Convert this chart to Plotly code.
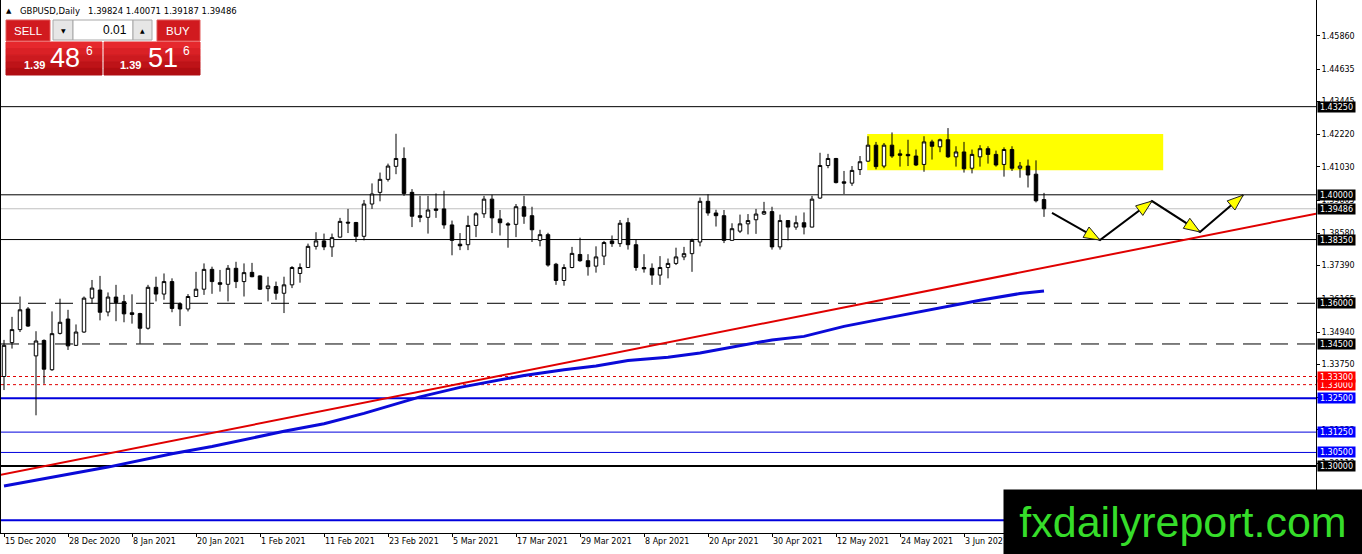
import plotly.graph_objects as go

# GBPUSD daily candles, bar 0 = 15 Dec 2020, last bar = 17 Jun 2021
opens = [1.3330, 1.3455, 1.3503, 1.3579, 1.3406, 1.3463, 1.3355, 1.3489, 1.3542, 1.3445,
         1.3494, 1.3619, 1.3649, 1.3568, 1.3623, 1.3606, 1.3565, 1.3562, 1.3508, 1.3659,
         1.3634, 1.3680, 1.3598, 1.3579, 1.3625, 1.3652, 1.3725, 1.3676, 1.3670, 1.3729,
         1.3680, 1.3714, 1.3701, 1.3654, 1.3662, 1.3637, 1.3668, 1.3710, 1.3732, 1.3810,
         1.3830, 1.3808, 1.3844, 1.3899, 1.3898, 1.3847, 1.3966, 1.4009, 1.4057, 1.4105,
         1.4134, 1.4009, 1.3923, 1.3917, 1.3948, 1.3948, 1.3889, 1.3818, 1.3816, 1.3887,
         1.3930, 1.3984, 1.3911, 1.3893, 1.3891, 1.3956, 1.3923, 1.3832, 1.3853, 1.3744,
         1.3684, 1.3732, 1.3780, 1.3757, 1.3737, 1.3774, 1.3830, 1.3820, 1.3897, 1.3816,
         1.3732, 1.3729, 1.3704, 1.3732, 1.3747, 1.3771, 1.3783, 1.3826, 1.3976, 1.3933,
         1.3923, 1.3832, 1.3866, 1.3893, 1.3908, 1.3929, 1.3938, 1.3808, 1.3905, 1.3881,
         1.3897, 1.3881, 1.3988, 1.4108, 1.4134, 1.4048, 1.4043, 1.4093, 1.4124, 1.4183,
         1.4106, 1.4183, 1.4151, 1.4149, 1.4143, 1.4112, 1.4195, 1.4177, 1.4203, 1.4140,
         1.4158, 1.4098, 1.4140, 1.4170, 1.4149, 1.4112, 1.4167, 1.4098, 1.4106, 1.4076,
         1.39824]
highs = [1.3465, 1.3550, 1.3625, 1.3586, 1.3497, 1.3467, 1.3570, 1.3617, 1.3576, 1.3522,
         1.3625, 1.3686, 1.3701, 1.3640, 1.3668, 1.3631, 1.3633, 1.3565, 1.3668, 1.3698,
         1.3710, 1.3692, 1.3603, 1.3634, 1.3716, 1.3747, 1.3735, 1.3723, 1.3741, 1.3753,
         1.3747, 1.3749, 1.3703, 1.3698, 1.3680, 1.3698, 1.3737, 1.3747, 1.3820, 1.3862,
         1.3857, 1.3857, 1.3915, 1.3948, 1.3900, 1.3981, 1.4042, 1.4082, 1.4115, 1.4225,
         1.4175, 1.4021, 1.3996, 1.3996, 1.4005, 1.4015, 1.3905, 1.3859, 1.3923, 1.3936,
         1.3996, 1.4000, 1.3944, 1.3899, 1.3966, 1.3996, 1.3956, 1.3871, 1.3860, 1.3749,
         1.3744, 1.3808, 1.3842, 1.3781, 1.3810, 1.3830, 1.3850, 1.3907, 1.3915, 1.3834,
         1.3781, 1.3747, 1.3774, 1.3765, 1.3805, 1.3808, 1.3838, 1.3990, 1.4002, 1.3945,
         1.3944, 1.3895, 1.3927, 1.3929, 1.3948, 1.3974, 1.3956, 1.3927, 1.3907, 1.3923,
         1.3935, 1.3996, 1.4155, 1.4151, 1.4136, 1.4088, 1.4106, 1.4143, 1.4216, 1.4195,
         1.4191, 1.4230, 1.4167, 1.4203, 1.4167, 1.4216, 1.4203, 1.4207, 1.4246, 1.4179,
         1.4195, 1.4167, 1.4183, 1.4179, 1.4163, 1.4175, 1.4179, 1.4121, 1.4130, 1.4127,
         1.40071]
lows = [1.3280, 1.3433, 1.3494, 1.3513, 1.3187, 1.3303, 1.3351, 1.3485, 1.3428, 1.3443,
        1.3491, 1.3598, 1.3537, 1.3552, 1.3534, 1.3530, 1.3525, 1.3451, 1.3503, 1.3607,
        1.3613, 1.3567, 1.3516, 1.3570, 1.3623, 1.3631, 1.3635, 1.3643, 1.3607, 1.3656,
        1.3625, 1.3696, 1.3649, 1.3607, 1.3613, 1.3564, 1.3656, 1.3676, 1.3730, 1.3798,
        1.3796, 1.3771, 1.3842, 1.3859, 1.3826, 1.3832, 1.3948, 1.3976, 1.4049, 1.4076,
        1.3996, 1.3881, 1.3899, 1.3857, 1.3915, 1.3875, 1.3777, 1.3796, 1.3796, 1.3844,
        1.3915, 1.3859, 1.3850, 1.3805, 1.3844, 1.3893, 1.3826, 1.3810, 1.3735, 1.3668,
        1.3665, 1.3729, 1.3753, 1.3702, 1.3713, 1.3741, 1.3808, 1.3808, 1.3798, 1.3720,
        1.3713, 1.3668, 1.3668, 1.3692, 1.3741, 1.3759, 1.3716, 1.3810, 1.3923, 1.3883,
        1.3822, 1.3832, 1.3859, 1.3854, 1.3856, 1.3926, 1.3798, 1.3798, 1.3832, 1.3871,
        1.3854, 1.3880, 1.3985, 1.4098, 1.4042, 1.4003, 1.4033, 1.4073, 1.4122, 1.4094,
        1.4098, 1.4136, 1.4104, 1.4106, 1.4106, 1.4085, 1.4130, 1.4157, 1.4136, 1.4104,
        1.4082, 1.4079, 1.4104, 1.4115, 1.4104, 1.4067, 1.4088, 1.4063, 1.4027, 1.3972,
        1.39187]
closes = [1.3445, 1.3503, 1.3576, 1.3516, 1.3461, 1.3357, 1.3488, 1.3530, 1.3443, 1.3494,
          1.3619, 1.3656, 1.3567, 1.3623, 1.3603, 1.3561, 1.3559, 1.3508, 1.3659, 1.3634,
          1.3680, 1.3581, 1.3579, 1.3625, 1.3652, 1.3725, 1.3680, 1.3670, 1.3729, 1.3680,
          1.3713, 1.3698, 1.3652, 1.3664, 1.3637, 1.3668, 1.3732, 1.3732, 1.3810, 1.3830,
          1.3808, 1.3842, 1.3902, 1.3896, 1.3847, 1.3966, 1.4003, 1.4057, 1.4106, 1.4134,
          1.4005, 1.3921, 1.3917, 1.3944, 1.3943, 1.3889, 1.3832, 1.3812, 1.3887, 1.3930,
          1.3984, 1.3915, 1.3897, 1.3889, 1.3956, 1.3921, 1.3871, 1.3853, 1.3741, 1.3684,
          1.3732, 1.3784, 1.3757, 1.3735, 1.3771, 1.3824, 1.3820, 1.3895, 1.3816, 1.3732,
          1.3727, 1.3704, 1.3732, 1.3747, 1.3771, 1.3783, 1.3832, 1.3976, 1.3933, 1.3923,
          1.3832, 1.3875, 1.3893, 1.3905, 1.3929, 1.3938, 1.3808, 1.3905, 1.3881, 1.3897,
          1.3881, 1.3984, 1.4108, 1.4134, 1.4045, 1.4043, 1.4090, 1.4122, 1.4183, 1.4104,
          1.4183, 1.4143, 1.4146, 1.4144, 1.4110, 1.4195, 1.4179, 1.4203, 1.4140, 1.4158,
          1.4096, 1.4149, 1.4170, 1.4149, 1.4110, 1.4167, 1.4098, 1.4106, 1.4073, 1.3978,
          1.39486]

date_tick_bars = [0, 8, 16, 24, 32, 40, 48, 56, 64, 72, 80, 88, 96, 104, 112, 120]
date_tick_labels = ["15 Dec 2020", "28 Dec 2020", "8 Jan 2021", "20 Jan 2021", "1 Feb 2021",
                    "11 Feb 2021", "23 Feb 2021", "5 Mar 2021", "17 Mar 2021", "29 Mar 2021",
                    "8 Apr 2021", "20 Apr 2021", "30 Apr 2021", "12 May 2021", "24 May 2021",
                    "3 Jun 2021"]
price_ticks = [1.45860, 1.44635, 1.43445, 1.42220, 1.41030, 1.39805, 1.38580, 1.37390,
               1.36165, 1.34940, 1.33750, 1.32525, 1.31335, 1.30110, 1.28920]

# moving average (blue) read at a few bars
ma_bars = [0, 5, 13, 21, 26, 35, 40, 45, 49, 52, 57, 61, 65, 70, 74, 78, 83, 87, 92, 96,
           100, 105, 109, 113, 118, 122, 127, 130]
ma_vals = [1.2926, 1.2952, 1.2996, 1.3045, 1.3072, 1.3128, 1.3156, 1.3194, 1.3228, 1.3255,
           1.3290, 1.3311, 1.3334, 1.3355, 1.3369, 1.3389, 1.3401, 1.3417, 1.3444, 1.3465,
           1.3478, 1.3515, 1.3538, 1.3561, 1.3588, 1.3611, 1.3636, 1.3645]

# red trend line
trend_bars = [-0.5, 164.0]
trend_vals = [1.29668, 1.39303]

# horizontal levels
black_levels = [1.43250, 1.40000, 1.38350]
dashed_levels = [1.36000, 1.34500]
red_levels = [1.33300, 1.33000]
blue_levels = [1.32500, 1.31250, 1.30500, 1.28000]
round_level = 1.30000
last_price = 1.39486

# yellow zone and projected path
zone_bars = [107.9, 144.9]
zone_vals = [1.40910, 1.42240]
path_bars = [131.0, 137.0, 143.5, 149.5, 154.9]
path_vals = [1.39330, 1.38330, 1.39770, 1.38630, 1.39990]

# ---- page geometry ----
W, H = 1362, 554
ML, MR, MT, MB = 1, 46, 0, 21
PW, PH = W - ML - MR, H - MT - MB
XR = [-0.375, 164.0]
YR = [1.27530, 1.47183]
PX_BAR = PW / (XR[1] - XR[0])
PX_PRICE = PH / (YR[1] - YR[0])


def px(X):
    return (X - ML) / PW


def py(Y):
    return 1 - (Y - MT) / PH


fig = go.Figure()

fig.add_trace(go.Candlestick(
    x=list(range(len(opens))), open=opens, high=highs, low=lows, close=closes,
    increasing=dict(line=dict(color="black", width=1), fillcolor="white"),
    decreasing=dict(line=dict(color="black", width=1), fillcolor="black"),
    whiskerwidth=0, hoverinfo="skip"))

fig.add_trace(go.Scatter(x=ma_bars, y=ma_vals, mode="lines",
                         line=dict(color="#0a0ad8", width=3), hoverinfo="skip"))
fig.add_trace(go.Scatter(x=trend_bars, y=trend_vals, mode="lines",
                         line=dict(color="#e00000", width=2), hoverinfo="skip"))
fig.add_trace(go.Scatter(x=path_bars, y=path_vals, mode="lines",
                         line=dict(color="black", width=2), hoverinfo="skip"))

shapes = []
shapes.append(dict(type="rect", xref="x", yref="y", x0=zone_bars[0], x1=zone_bars[1],
                   y0=zone_vals[0], y1=zone_vals[1], fillcolor="#ffff00",
                   line=dict(width=0), layer="below"))


def hline(v, color, width=1, dash="solid"):
    shapes.append(dict(type="line", xref="paper", yref="y", x0=0, x1=1, y0=v, y1=v,
                       line=dict(color=color, width=width, dash=dash), layer="below"))


hline(last_price, "#c0c0c0")
for v in black_levels:
    hline(v, "black")
for v in dashed_levels:
    hline(v, "black", 1, "18px,9px")
for v in red_levels:
    hline(v, "#e00000", 1, "3px,3px")
for v in blue_levels:
    hline(v, "#0000dd", 2 if v in (1.325, 1.28) else 1)
hline(round_level, "black", 2)

# yellow arrow heads at the end of every leg
for k in range(1, len(path_bars)):
    dx = (path_bars[k] - path_bars[k - 1]) * PX_BAR
    dy = -(path_vals[k] - path_vals[k - 1]) * PX_PRICE
    d = (dx * dx + dy * dy) ** 0.5
    ux, uy = dx / d, dy / d
    tx, ty = path_bars[k], path_vals[k]
    L, w = 16, 6
    pts = []
    for sx, sy in ((0, 0), (-L * ux - w * uy, -L * uy + w * ux), (-L * ux + w * uy, -L * uy - w * ux)):
        pts.append((tx + sx / PX_BAR, ty - sy / PX_PRICE))
    path = "M {} {} L {} {} L {} {} Z".format(*[c for p in pts for c in p])
    shapes.append(dict(type="path", xref="x", yref="y", path=path, fillcolor="#ffff00",
                       line=dict(color="#202020", width=1), layer="above"))


# ---- one-click trading panel (pixel boxes) ----
def box(X0, Y0, X1, Y1, fill, line=None):
    shapes.append(dict(type="rect", xref="paper", yref="paper", x0=px(X0), x1=px(X1),
                       y0=py(Y1), y1=py(Y0), fillcolor=fill,
                       line=dict(color=line or fill, width=1), layer="above"))


box(4, 17, 203, 77, "white")
box(6, 20, 50, 41, "#d11a1f", "#e25a5a")
box(157, 20, 200, 41, "#d11a1f", "#e25a5a")
box(53, 20, 73, 40, "#e6e6e6", "#a8a8a8")
box(73, 20, 133, 40, "white", "#a8a8a8")
box(133, 20, 152, 40, "#e6e6e6", "#a8a8a8")
bands = ["#e6282d", "#da2126", "#cc1a1f", "#be1318", "#b00d12"]
for x0, x1 in ((6, 102), (104, 200)):
    for b, col in enumerate(bands):
        box(x0, 42 + b * 6.6, x1, 42 + (b + 1) * 6.6, col)

ann = []


def text(X, Y, s, size, color="black", anchor="left", family="DejaVu Sans", bold=False):
    ann.append(dict(xref="paper", yref="paper", x=px(X), y=py(Y), text="<b>" + s + "</b>" if bold else s,
                    showarrow=False, xanchor=anchor, yanchor="middle",
                    font=dict(size=size, color=color, family=family)))


text(4, 11, "\u25b2", 7)
text(18, 11, "GBPUSD,Daily\u00a0\u00a0 1.39824 1.40071 1.39187 1.39486", 8.5)
text(28, 31, "SELL", 11.5, "white", "center", "Liberation Sans")
text(178.5, 31, "BUY", 11.5, "white", "center", "Liberation Sans")
text(63, 30, "\u25bc", 6, "black", "center")
text(142.5, 30, "\u25b2", 6, "black", "center")
text(129, 30, "0.01", 12, "black", "right", "Liberation Sans")
for x_small, x_big, x_sup, big in ((22, 48, 84, "48"), (118, 146, 181, "51")):
    text(x_small, 65, "1.39", 11, "white", "left", "Liberation Sans", True)
    text(x_big, 58, big, 27, "white", "left", "Liberation Sans")
    text(x_sup, 51, "6", 12, "white", "left", "Liberation Sans")

# price labels on the right axis
label_list = [(v, "black") for v in black_levels + dashed_levels + [round_level, last_price]]
label_list += [(v, "#ff0000") for v in red_levels]
label_list += [(v, "#0000ff") for v in blue_levels if v != 1.28]
for v, bg in sorted(label_list):
    ann.append(dict(xref="paper", yref="y", x=1, y=v, xshift=1, xanchor="left", yanchor="middle",
                    text="{:.5f}".format(v), showarrow=False, bgcolor=bg, width=37, height=10,
                    borderpad=0, font=dict(size=8, color="white", family="DejaVu Sans")))

# site logo in the corner
ann.append(dict(xref="paper", yref="paper", x=px(1183), y=py(522), xanchor="center", yanchor="middle",
                text="fxdailyreport.com", showarrow=False, bgcolor="black", width=358, height=64,
                borderpad=0, font=dict(size=43, color="#36dd2a", family="Liberation Sans")))

fig.update_layout(
    width=W, height=H, margin=dict(l=ML, r=MR, t=MT, b=MB, autoexpand=False),
    paper_bgcolor="white", plot_bgcolor="white", showlegend=False, hovermode=False,
    boxgap=0.38, shapes=shapes, annotations=ann,
    font=dict(family="DejaVu Sans", size=8, color="black"),
    xaxis=dict(range=XR, showgrid=False, zeroline=False, rangeslider=dict(visible=False),
               tickvals=date_tick_bars, ticktext=date_tick_labels, ticks="outside", ticklen=3,
               tickcolor="black", showline=True, linecolor="black", mirror=True, tickangle=0,
               automargin=False, ticklabelposition="outside right", tickfont=dict(size=8)),
    yaxis=dict(range=YR, side="right", showgrid=False, zeroline=False,
               tickvals=price_ticks, ticktext=["{:.5f}".format(v) for v in price_ticks],
               ticks="outside", ticklen=3, tickcolor="black", showline=True, automargin=False,
               linecolor="black", mirror=True, tickfont=dict(size=8)),
)

# the page's default body margin would push the fixed-size chart off the window
fig.write_html("out.html", config={"displayModeBar": False},
               post_script="document.body.style.margin='0';document.body.style.overflow='hidden';")
